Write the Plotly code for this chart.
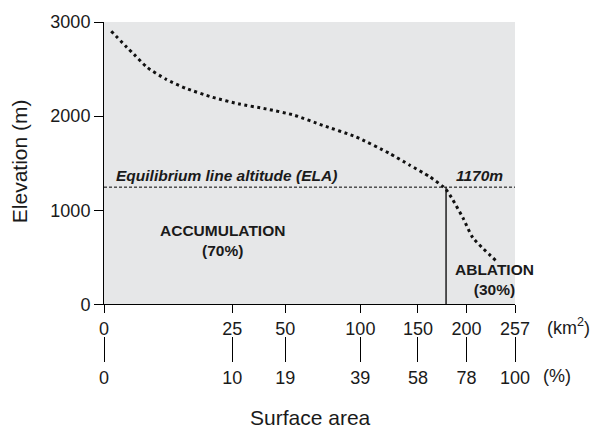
import numpy as np
import plotly.graph_objects as go

# ---- data ----
area_km2 = [0.08, 0.95, 1.37, 2.86, 5.8, 10.2, 17.9, 27.8, 39.9, 55, 72.7, 96.6,
            124, 141.9, 161, 174.6, 178.2, 185, 196, 207, 236]
elevation_m = [2902, 2708, 2656, 2516, 2393, 2295, 2200, 2129, 2077, 2010, 1902, 1779,
               1603, 1481, 1358, 1253, 1218, 1113, 919, 708, 445]
km2_ticks = [0, 25, 50, 100, 150, 200, 257]
pct_ticks = ["0", "10", "19", "39", "58", "78", "100"]
y_ticks = [0, 1000, 2000, 3000]
total_area = 257
ela_elev = 1245
ela_area = 178

FONT = "Liberation Sans, Arial, Helvetica, sans-serif"
TXT = "#1a1a1a"

# layout geometry (pixels)
W, H = 590, 430
L, R, T = 104, 75, 19
plot_bottom = 304      # main x axis
paper_bottom = 337     # bottom of paper area
B = H - paper_bottom
plot_w = W - L - R
paper_h = paper_bottom - T


def px_x(px):
    return (px - L) / plot_w


def px_y(py):
    return (paper_bottom - py) / paper_h


sx = np.sqrt(np.array(area_km2))
tick_s = np.sqrt(np.array(km2_ticks))
xmax = np.sqrt(total_area)

fig = go.Figure()

# ELA horizontal dashed line
fig.add_trace(go.Scatter(x=[0, xmax], y=[ela_elev, ela_elev], mode="lines",
                         line=dict(color="black", width=1, dash="3px,2px"),
                         showlegend=False, hoverinfo="skip"))
# vertical separation line
fig.add_trace(go.Scatter(x=[np.sqrt(ela_area)] * 2, y=[0, ela_elev], mode="lines",
                         line=dict(color="black", width=1.3),
                         showlegend=False, hoverinfo="skip"))
# hypsometric curve
fig.add_trace(go.Scatter(x=sx, y=elevation_m, mode="lines",
                         line=dict(color="#111", width=3, dash="3px,3.5px", shape="spline", smoothing=0.6),
                         showlegend=False, hoverinfo="skip"))
# dummy trace to host percent axis
fig.add_trace(go.Scatter(x=tick_s, y=[0] * len(tick_s), xaxis="x2", mode="markers",
                         marker=dict(opacity=0), showlegend=False, hoverinfo="skip"))

ydom0 = (paper_bottom - plot_bottom) / paper_h

fig.update_layout(
    width=W, height=H,
    margin=dict(l=L, r=R, t=T, b=B),
    paper_bgcolor="white",
    plot_bgcolor="#e6e7e8",
    font=dict(family=FONT, color=TXT, size=18),
    xaxis=dict(range=[0, xmax], tickvals=tick_s, ticktext=[str(v) for v in km2_ticks],
               showgrid=False, zeroline=False, showline=True, linecolor="black", linewidth=1,
               ticks="outside", ticklen=8, tickcolor="black", tickwidth=1,
               tickfont=dict(size=18, family=FONT, color=TXT), anchor="y"),
    xaxis2=dict(range=[0, xmax], tickvals=tick_s, ticktext=pct_ticks, overlaying="x",
                anchor="free", position=px_y(336), side="bottom",
                showgrid=False, zeroline=False, showline=False,
                ticks="outside", ticklen=25, tickcolor="black", tickwidth=1,
                tickfont=dict(size=18, family=FONT, color=TXT)),
    yaxis=dict(range=[0, 3000], domain=[ydom0, 1], tickvals=y_ticks,
               showgrid=False, zeroline=False, showline=True, linecolor="black", linewidth=1,
               ticks="outside", ticklen=9, tickcolor="black", tickwidth=1,
               tickfont=dict(size=18, family=FONT, color=TXT)),
)

ann = []
# axis titles
ann.append(dict(text="Elevation (m)", xref="paper", yref="paper", x=px_x(19), y=px_y(159.5),
                textangle=-90, showarrow=False, font=dict(size=21, family=FONT, color=TXT),
                xanchor="center", yanchor="middle"))
ann.append(dict(text="Surface area", xref="paper", yref="paper", x=px_x(310), y=px_y(418),
                showarrow=False, font=dict(size=21, family=FONT, color=TXT),
                xanchor="center", yanchor="middle"))
ann.append(dict(text="(km<sup>2</sup>)", xref="paper", yref="paper", x=px_x(545), y=px_y(326),
                showarrow=False, font=dict(size=18, family=FONT, color=TXT),
                xanchor="left", yanchor="middle"))
ann.append(dict(text="(%)", xref="paper", yref="paper", x=px_x(541), y=px_y(376),
                showarrow=False, font=dict(size=18, family=FONT, color=TXT),
                xanchor="left", yanchor="middle"))
# inside labels
bold = dict(size=15.5, family=FONT, color=TXT)
ann.append(dict(text="<b><i>Equilibrium line altitude (ELA)</i></b>", xref="paper", yref="paper",
                x=px_x(114), y=px_y(174), showarrow=False, font=bold, xanchor="left", yanchor="middle"))
ann.append(dict(text="<b><i>1170m</i></b>", xref="paper", yref="paper",
                x=px_x(454), y=px_y(174), showarrow=False, font=bold, xanchor="left", yanchor="middle"))
ann.append(dict(text="<b>ACCUMULATION</b><br><b>(70%)</b>", xref="paper", yref="paper",
                x=px_x(222), y=px_y(239.5), showarrow=False, font=bold, xanchor="center", yanchor="middle"))
ann.append(dict(text="<b>ABLATION</b><br><b>(30%)</b>", xref="paper", yref="paper",
                x=px_x(494), y=px_y(278.5), showarrow=False, font=bold, xanchor="center", yanchor="middle"))
fig.update_layout(annotations=ann)

fig.write_html("out.html")
